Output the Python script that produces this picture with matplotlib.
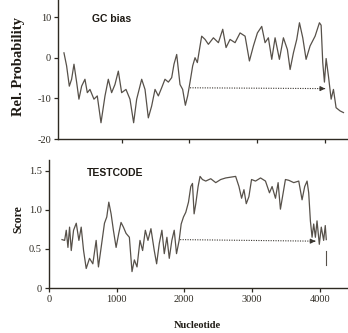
import matplotlib
matplotlib.use("Agg")
import matplotlib.pyplot as plt

# ---- data ----
gc_x = [148, 187, 227, 261, 296, 335, 369, 409, 458, 493, 532, 591, 640, 695, 754, 803, 852, 901, 951,
        1000, 1064, 1123, 1177, 1222, 1296, 1345, 1394, 1443, 1493, 1542, 1591, 1640, 1690, 1739, 1773,
        1813, 1862, 1901, 1941, 1975, 2010, 2049, 2084, 2118, 2158, 2182, 2232, 2281, 2355, 2429, 2493,
        2542, 2601, 2675, 2749, 2823, 2887, 2946, 3005, 3069, 3118, 3167, 3217, 3266, 3330, 3389, 3448,
        3488, 3537, 3586, 3626, 3675, 3724, 3783, 3857, 3921, 3946, 3970, 3995, 4020, 4054, 4094, 4128,
        4167, 4227, 4276]
gc_y = [1.2, -2, -7, -5.3, -1.6, -6, -10.2, -7, -5.3, -8.6, -7.8, -10.2, -9.4, -16, -9.4, -5.3, -8.6,
        -6.6, -3.3, -8.6, -7.8, -10.2, -16, -10.2, -5.3, -7.8, -14.8, -11.9, -7.8, -9.4, -7.4, -5.3, -6,
        -4.9, -1.6, 0.8, -6.6, -7.8, -11.7, -9.4, -6, -2, 0, -1.2, 2.9, 5.3, 4.5, 3.3, 4.9, 3.7, 7, 2.5,
        4.5, 3.7, 6.1, 5.3, -0.8, 2.9, 6.1, 7.7, 3.7, 4.9, -0.4, 4.9, -0.4, 4.9, 2, -2.9, 1.2, 4.5, 8.6,
        4.9, -0.4, 2.9, 5.3, 8.6, 8, -1.2, -6, -0.2, -4.5, -10.2, -7.8, -12.3, -13.1, -13.5]

tc_x = [192, 231, 255, 280, 304, 329, 363, 403, 442, 476, 511, 550, 599, 648, 697, 731, 771, 820, 854, 884,
        918, 952, 992, 1031, 1065, 1100, 1139, 1188, 1227, 1262, 1301, 1345, 1384, 1424, 1463, 1507,
        1556, 1591, 1630, 1669, 1704, 1743, 1778, 1816, 1851, 1885, 1924, 1954, 1988, 2022, 2062, 2096,
        2121, 2145, 2170, 2204, 2233, 2268, 2317, 2391, 2465, 2538, 2612, 2685, 2759, 2808, 2847, 2882,
        2916, 2955, 2994, 3053, 3127, 3200, 3259, 3298, 3348, 3387, 3421, 3456, 3495, 3545, 3618, 3692,
        3741, 3780, 3815, 3839, 3864, 3889, 3913, 3938, 3962, 3996, 4025, 4060, 4084, 4099]
tc_y = [0.62, 0.61, 0.74, 0.52, 0.78, 0.48, 0.74, 0.83, 0.61, 0.78, 0.48, 0.25, 0.38, 0.31, 0.61, 0.27, 0.52,
        0.83, 0.91, 1.10, 0.95, 0.74, 0.52, 0.70, 0.84, 0.78, 0.70, 0.65, 0.21, 0.36, 0.27, 0.61, 0.48,
        0.74, 0.61, 0.76, 0.48, 0.31, 0.57, 0.74, 0.44, 0.65, 0.38, 0.61, 0.74, 0.44, 0.61, 0.82, 0.91,
        0.97, 1.10, 1.30, 1.34, 0.95, 1.08, 1.30, 1.43, 1.39, 1.37, 1.40, 1.35, 1.39, 1.41, 1.42, 1.43,
        1.30, 1.15, 1.26, 1.08, 1.17, 1.39, 1.37, 1.41, 1.37, 1.22, 1.30, 1.15, 1.35, 1.01, 1.19, 1.39,
        1.38, 1.35, 1.37, 1.13, 1.30, 1.37, 1.22, 0.86, 0.65, 0.82, 0.65, 0.86, 0.56, 0.78, 0.61, 0.80,
        0.62]

# small vertical mark below the TESTCODE trace near its end
tc_mark_x = [4090, 4090]
tc_mark_y = [0.30, 0.48]

gc_arrow_x = [2010, 4005]
gc_arrow_y = [-7.4, -7.6]
tc_arrow_x = [1939, 3938]
tc_arrow_y = [0.62, 0.60]

gc_yticks = [10, 0, -10, -20]
tc_yticks = [0, 0.5, 1.0, 1.5]
tc_yticklabels = ["0", "0.5", "1.0", "1.5"]
x_ticks = [0, 1000, 2000, 3000, 4000]

# ---- style ----
W, H = 348, 333
LINE = "#57514a"
AX = "#2e2a22"
SERIF = "Liberation Serif"
SANS = "Liberation Sans"

fig = plt.figure(figsize=(W / 100, H / 100), dpi=100)

def frac(x0, y0, x1, y1):
    return [x0 / W, 1 - y1 / H, (x1 - x0) / W, (y1 - y0) / H]

ax1 = fig.add_axes(frac(58, 0, 348, 139))
ax2 = fig.add_axes(frac(49, 160, 348, 288))

for ax in (ax1, ax2):
    for s in ("top", "right"):
        ax.spines[s].set_visible(False)
    for s in ("left", "bottom"):
        ax.spines[s].set_color(AX)
        ax.spines[s].set_linewidth(1.0)
    ax.tick_params(colors=AX, length=3, width=0.9, labelsize=7.5, pad=2)

# top panel
ax1.plot(gc_x, gc_y, color=LINE, lw=0.9)
ax1.set_xlim(60, 4343)
ax1.set_ylim(-20, 14.2)
ax1.set_yticks(gc_yticks)
ax1.set_yticklabels([str(v) for v in gc_yticks], family=SERIF, fontsize=7.5, color=AX)
ax1.set_xticks(x_ticks[1:])
ax1.set_xticklabels([])
ax1.plot(gc_arrow_x, gc_arrow_y, color="#3a3630", lw=0.8, linestyle=(0, (1, 1.2)))
ax1.annotate("", xy=(gc_arrow_x[1], gc_arrow_y[1]), xytext=(gc_arrow_x[1] - 60, gc_arrow_y[1]),
             arrowprops=dict(arrowstyle="-|>", color="#3a3630", lw=0.8, mutation_scale=7))

# bottom panel
ax2.plot(tc_x, tc_y, color=LINE, lw=0.9)
ax2.plot(tc_mark_x, tc_mark_y, color=LINE, lw=0.8)
ax2.set_xlim(0, 4420)
ax2.set_ylim(0, 1.64)
ax2.set_yticks(tc_yticks)
ax2.set_yticklabels(tc_yticklabels, family=SERIF, fontsize=7.5, color=AX)
ax2.set_xticks(x_ticks)
ax2.set_xticklabels([str(v) for v in x_ticks], family=SERIF, fontsize=7.5, color=AX)
ax2.plot(tc_arrow_x, tc_arrow_y, color="#3a3630", lw=0.8, linestyle=(0, (1, 1.2)))
ax2.annotate("", xy=(tc_arrow_x[1], tc_arrow_y[1]), xytext=(tc_arrow_x[1] - 60, tc_arrow_y[1]),
             arrowprops=dict(arrowstyle="-|>", color="#3a3630", lw=0.8, mutation_scale=7))

# texts
fig.text(92 / W, 1 - 19 / H, "GC bias", family=SANS, weight="bold", fontsize=7.5,
         color="#1e1a14", ha="left", va="center")
fig.text(87 / W, 1 - 173 / H, "TESTCODE", family=SANS, weight="bold", fontsize=7.5,
         color="#1e1a14", ha="left", va="center")
fig.text(19 / W, 1 - 67 / H, "Rel. Probability", family=SERIF, weight="bold", fontsize=10.5,
         color="#1e1a14", ha="center", va="center", rotation=90)
fig.text(18 / W, 1 - 219 / H, "Score", family=SERIF, weight="bold", fontsize=8.5,
         color="#1e1a14", ha="center", va="center", rotation=90)
fig.text(197 / W, 1 - 326 / H, "Nucleotide", family=SERIF, weight="bold", fontsize=7.5,
         color="#1e1a14", ha="center", va="center")

fig.savefig("out.png", dpi=100, facecolor="white")
